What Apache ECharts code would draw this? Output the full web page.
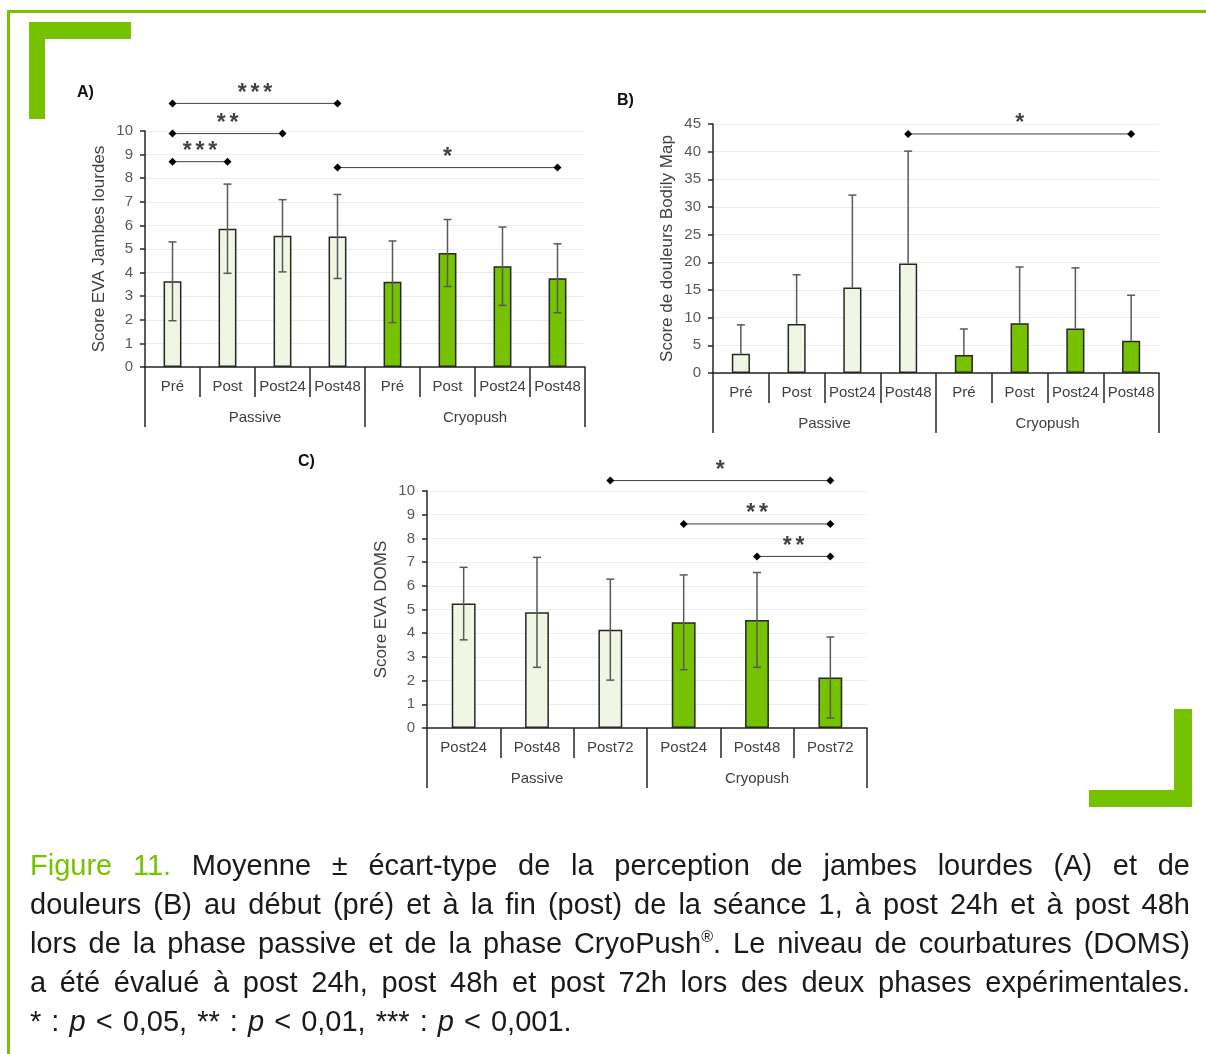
<!DOCTYPE html>
<html>
<head>
<meta charset="utf-8">
<script src="https://cdn.jsdelivr.net/npm/echarts@6/dist/echarts.min.js"></script>
<style>
  html, body { margin: 0; padding: 0; background: #fff; }
  #chart { position: absolute; left: 0; top: 0; width: 1206px; height: 1054px; }
  #caption {
    position: absolute; left: 30px; top: 846px; width: 1160px;
    font-family: 'Liberation Sans', Arial, sans-serif; font-size: 29px; line-height: 39px; color: #1a1a1a;
  }
  #caption div { white-space: nowrap; text-align: justify; text-align-last: justify; }
  #caption div.last { text-align-last: left; word-spacing: 2px; }
  #caption .fig { color: #76c100; }
</style>
</head>
<body>
<div id="chart"></div>
<div id="caption">
  <div><span class="fig">Figure 11.</span> Moyenne ± écart-type de la perception de jambes lourdes (A) et de</div>
  <div>douleurs (B) au début (pré) et à la fin (post) de la séance 1, à post 24h et à post 48h</div>
  <div>lors de la phase passive et de la phase CryoPush<sup style="font-size:16px;line-height:0">®</sup>. Le niveau de courbatures (DOMS)</div>
  <div>a été évalué à post 24h, post 48h et post 72h lors des deux phases expérimentales.</div>
  <div class="last">* : <i>p</i> &lt; 0,05, ** : <i>p</i> &lt; 0,01, *** : <i>p</i> &lt; 0,001.</div>
</div>
<script>
const groups = ['Passive', 'Cryopush']
const catsAB = ['Pré', 'Post', 'Post24', 'Post48', 'Pré', 'Post', 'Post24', 'Post48']
const catsC = ['Post24', 'Post48', 'Post72', 'Post24', 'Post48', 'Post72']

// A) heavy legs (mean, sd)
const meanA = [3.63, 5.86, 5.56, 5.53, 3.61, 4.83, 4.27, 3.76]
const sdA = [1.67, 1.89, 1.53, 1.78, 1.73, 1.42, 1.66, 1.46]
// B) Bodily Map pain (mean, sd - upper bar only)
const meanB = [3.5, 8.85, 15.45, 19.8, 3.25, 9.0, 8.05, 5.85]
const sdB = [5.2, 8.9, 16.7, 20.3, 4.7, 10.15, 10.95, 8.2]
// C) DOMS (mean, sd)
const meanC = [5.25, 4.88, 4.15, 4.46, 4.56, 2.13]
const sdC = [1.53, 2.32, 2.13, 2.0, 2.0, 1.71]

// significance brackets: [from index, to index, level, stars]
const sigA = [[0, 3, 11.17, '***'], [0, 2, 9.89, '**'], [0, 1, 8.7, '***'], [3, 7, 8.45, '*']]
const sigB = [[3, 7, 43.2, '*']]
const sigC = [[2, 5, 10.44, '*'], [3, 5, 8.61, '**'], [4, 5, 7.24, '**']]

const GREEN = '#76c100'
const LIGHT = '#eff6e3'
const INK = '#262626'
const GREY = '#595959'
const FONT = "'Liberation Sans', Arial, sans-serif"

const panels = [
  { cats: catsAB, mean: meanA, sd: sdA, sig: sigA, max: 10, step: 1, upOnly: false,
    name: 'Score EVA Jambes lourdes', grid: { left: 145, top: 131, width: 440, height: 236 } },
  { cats: catsAB, mean: meanB, sd: sdB, sig: sigB, max: 45, step: 5, upOnly: true,
    name: 'Score de douleurs Bodily Map', grid: { left: 713, top: 124, width: 446, height: 249 } },
  { cats: catsC, mean: meanC, sd: sdC, sig: sigC, max: 10, step: 1, upOnly: false,
    name: 'Score EVA DOMS', grid: { left: 427, top: 491, width: 440, height: 237 } }
]

const stars = s => s.split('').join('\u2006')

const grid = [], xAxis = [], yAxis = [], series = []
panels.forEach((p, i) => {
  const n = p.cats.length
  grid.push(p.grid)
  xAxis.push({
    gridIndex: i, type: 'category', position: 'bottom', data: p.cats,
    axisLine: { onZero: false, lineStyle: { color: INK, width: 1.5 } },
    axisTick: { show: true, interval: 0, length: 30, lineStyle: { color: INK, width: 1.5 } },
    axisLabel: { interval: 0, margin: 12, color: '#404040', fontSize: 15, fontFamily: FONT }
  })
  xAxis.push({
    gridIndex: i, type: 'category', position: 'bottom', data: groups,
    axisLine: { show: false, onZero: false },
    axisTick: { show: true, interval: 0, length: 60, lineStyle: { color: INK, width: 1.5 } },
    axisLabel: { interval: 0, margin: 43, color: '#404040', fontSize: 15, fontFamily: FONT }
  })
  xAxis.push({ gridIndex: i, type: 'value', min: -0.5, max: n - 0.5, show: false, axisLine: { onZero: false } })
  yAxis.push({
    gridIndex: i, type: 'value', min: 0, max: p.max, interval: p.step,
    name: p.name, nameLocation: 'middle', nameGap: 37,
    nameTextStyle: { color: '#404040', fontSize: 17, fontFamily: FONT },
    axisLine: { show: true, onZero: false, lineStyle: { color: INK, width: 1.5 } },
    axisTick: { show: true, length: 5, lineStyle: { color: INK, width: 1.5 } },
    axisLabel: { margin: 12, color: GREY, fontSize: 15, fontFamily: FONT },
    splitLine: { lineStyle: { color: '#ececec' } }
  })
  series.push({
    type: 'bar', xAxisIndex: 3 * i, yAxisIndex: i, barWidth: '32.5%',
    itemStyle: { borderColor: INK, borderWidth: 1.5 },
    data: p.mean.map((v, k) => ({ value: v, itemStyle: { color: k < n / 2 ? LIGHT : GREEN } }))
  })
  series.push({
    type: 'custom', xAxisIndex: 3 * i, yAxisIndex: i, z: 3,
    data: p.mean.map((v, k) => [k, v, p.sd[k]]),
    encode: { x: 0, y: 1 },
    renderItem: (params, api) => {
      const k = api.value(0), m = api.value(1), s = api.value(2)
      const top = api.coord([k, m + s])
      const bot = api.coord([k, p.upOnly ? m : m - s])
      const cap = 4
      const style = { stroke: GREY, lineWidth: 1.5 }
      const children = [
        { type: 'line', shape: { x1: top[0], y1: top[1], x2: bot[0], y2: bot[1] }, style },
        { type: 'line', shape: { x1: top[0] - cap, y1: top[1], x2: top[0] + cap, y2: top[1] }, style }
      ]
      if (!p.upOnly) {
        children.push({ type: 'line', shape: { x1: bot[0] - cap, y1: bot[1], x2: bot[0] + cap, y2: bot[1] }, style })
      }
      return { type: 'group', children }
    }
  })
  p.sig.forEach(s => {
    series.push({
      type: 'line', xAxisIndex: 3 * i + 2, yAxisIndex: i, clip: false, z: 4,
      data: [[s[0], s[2]], [s[1], s[2]]],
      symbol: 'diamond', symbolSize: 8,
      itemStyle: { color: '#000' }, lineStyle: { color: '#404040', width: 1 }
    })
  })
  series.push({
    type: 'scatter', xAxisIndex: 3 * i + 2, yAxisIndex: i, clip: false, z: 4,
    symbolSize: 1, itemStyle: { color: 'rgba(0,0,0,0)' },
    data: p.sig.map(s => [(s[0] + s[1]) / 2, s[2], s[3]]),
    label: {
      show: true, position: 'top', distance: -2, color: '#111', fontSize: 23, fontWeight: 'bold',
      fontFamily: FONT, formatter: d => stars(d.value[2])
    }
  })
})

const rect = (x, y, w, h) => ({ type: 'rect', shape: { x, y, width: w, height: h }, style: { fill: GREEN }, silent: true })
const tag = (t, x, y) => ({
  type: 'text', x, y, silent: true,
  style: { text: t, fill: '#111', font: "bold 16px 'Liberation Sans', Arial, sans-serif", verticalAlign: 'middle' }
})

const chart = echarts.init(document.getElementById('chart'))
chart.setOption({
  animation: false,
  grid, xAxis, yAxis, series,
  graphic: [
    rect(7, 10, 1199, 3), rect(7, 10, 3, 1044),
    rect(29, 22, 102, 17), rect(29, 22, 16, 97),
    rect(1174, 709, 18, 98), rect(1089, 790, 103, 17),
    tag('A)', 77, 93), tag('B)', 617, 101), tag('C)', 298, 462)
  ]
})
</script>
</body>
</html>
